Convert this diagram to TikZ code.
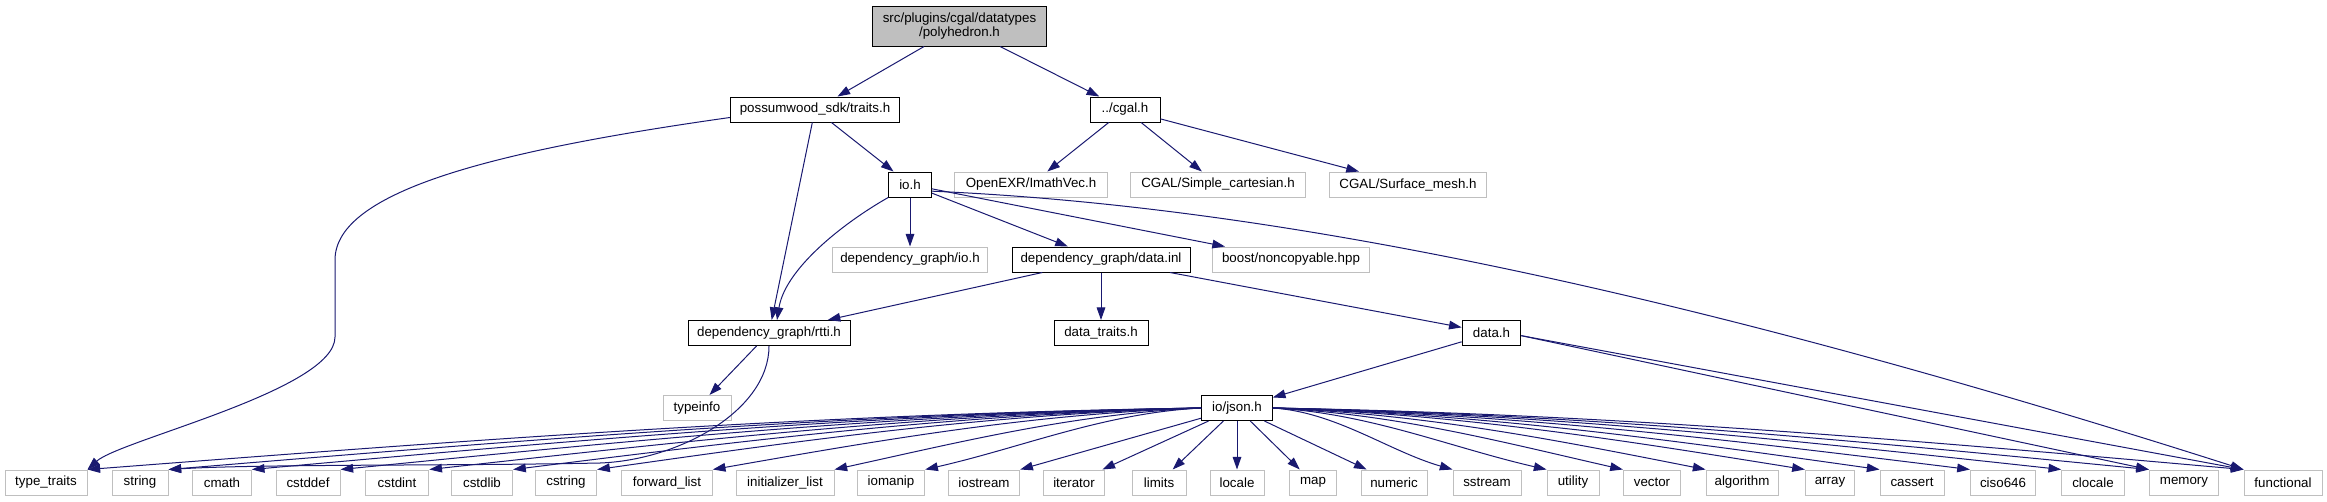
\documentclass[tikz,border=0pt]{standalone}
\usepackage{fontspec}
\setmainfont{Liberation Sans}
\usepackage{tikz}
\definecolor{edge}{RGB}{25,25,112}
\definecolor{grey75}{RGB}{191,191,191}
\usetikzlibrary{arrows.meta}

\begin{document}
\begin{tikzpicture}[x=0.75pt, y=-0.75pt, >={Triangle[length=9.5pt,width=6.5pt]},
    file/.style={draw=black, line width=0.75pt, fill=white, inner sep=0pt,
        minimum height=18.75pt, font=\fontsize{10}{10}\selectfont},
    sys/.style={file, draw=grey75},
    dep/.style={->, edge, line width=0.75pt}]
    \useasboundingbox (0,0) rectangle (2327,501);
    % Tệp gốc
    \node[file, fill=grey75, minimum width=131pt, minimum height=30pt, align=center,
        font=\fontsize{10}{10}\selectfont] (poly) at (959.5,26) {src/plugins/cgal/datatypes\\/polyhedron.h};
    % Tầng 1
    \node[file, minimum width=127pt] (traits) at (815,109.5) {possumwood\_sdk/traits.h};
    \node[file, minimum width=52.5pt] (cgal) at (1125,109.5) {../cgal.h};
    % Tầng 2
    \node[file, minimum width=32pt] (io) at (910,184.5) {io.h};
    \node[sys, minimum width=115pt] (openexr) at (1031,184.5) {OpenEXR/ImathVec.h};
    \node[sys, minimum width=131pt] (simplecart) at (1218,184.5) {CGAL/Simple\_cartesian.h};
    \node[sys, minimum width=118pt] (surfmesh) at (1408,184.5) {CGAL/Surface\_mesh.h};
    % Tầng 3
    \node[sys, minimum width=116pt] (dgio) at (910,259.5) {dependency\_graph/io.h};
    \node[file, minimum width=133.5pt] (datainl) at (1101,259.5) {dependency\_graph/data.inl};
    \node[sys, minimum width=118pt] (noncopy) at (1291,259.5) {boost/noncopyable.hpp};
    % Tầng 4
    \node[file, minimum width=121.5pt] (rtti) at (769,333) {dependency\_graph/rtti.h};
    \node[file, minimum width=70.5pt] (datatraits) at (1101,333) {data\_traits.h};
    \node[file, minimum width=44pt] (datah) at (1491.5,333) {data.h};
    % Tầng 5
    \node[sys, minimum width=51pt] (typeinfo) at (697,408) {typeinfo};
    \node[file, minimum width=53pt] (json) at (1237,408) {io/json.h};
    % Thư viện chuẩn
    \node[sys, minimum width=61.5pt] (typetraits) at (46,482.5) {type\_traits};
    \node[sys, minimum width=42pt] (string) at (140,482.5) {string};
    \node[sys, minimum width=44pt] (cmath) at (222,482.5) {cmath};
    \node[sys, minimum width=48pt] (cstddef) at (308,482.5) {cstddef};
    \node[sys, minimum width=47.7pt] (cstdint) at (397,482.5) {cstdint};
    \node[sys, minimum width=46pt] (cstdlib) at (482,482.5) {cstdlib};
    \node[sys, minimum width=46pt] (cstring) at (566,482.5) {cstring};
    \node[sys, minimum width=68pt] (forwardlist) at (667,482.5) {forward\_list};
    \node[sys, minimum width=73.5pt] (initlist) at (785,482.5) {initializer\_list};
    \node[sys, minimum width=50.6pt] (iomanip) at (891,482.5) {iomanip};
    \node[sys, minimum width=53.6pt] (iostream) at (984,482.5) {iostream};
    \node[sys, minimum width=45.5pt] (iterator) at (1074,482.5) {iterator};
    \node[sys, minimum width=40.5pt] (limits) at (1159,482.5) {limits};
    \node[sys, minimum width=40.5pt] (locale) at (1237,482.5) {locale};
    \node[sys, minimum width=35pt] (map) at (1313,482.5) {map};
    \node[sys, minimum width=49.5pt] (numeric) at (1394,482.5) {numeric};
    \node[sys, minimum width=51pt] (sstream) at (1487,482.5) {sstream};
    \node[sys, minimum width=39pt] (utility) at (1573,482.5) {utility};
    \node[sys, minimum width=43pt] (vector) at (1652,482.5) {vector};
    \node[sys, minimum width=54pt] (algorithm) at (1742,482.5) {algorithm};
    \node[sys, minimum width=37pt] (array) at (1830,482.5) {array};
    \node[sys, minimum width=48pt] (cassert) at (1912,482.5) {cassert};
    \node[sys, minimum width=49pt] (ciso646) at (2003,482.5) {ciso646};
    \node[sys, minimum width=47pt] (clocale) at (2093,482.5) {clocale};
    \node[sys, minimum width=52pt] (memory) at (2184,482.5) {memory};
    \node[sys, minimum width=58.5pt] (functional) at (2283,482.5) {functional};
    % Cạnh từ tệp gốc
    \draw[dep] (poly) -- (traits);
    \draw[dep] (poly) -- (cgal);
    % Cạnh từ traits.h
    \draw[dep] ([yshift=-6pt]traits.west) .. controls (500,150) and (335,190) .. (335,260)
        -- (335,337) .. controls (335,390) and (120,440) .. (typetraits.north east);
    \draw[dep] (traits) -- (rtti);
    \draw[dep] (traits) -- (io);
    % Cạnh từ cgal.h
    \draw[dep] (cgal) -- (openexr);
    \draw[dep] (cgal) -- (simplecart);
    \draw[dep] (cgal) -- (surfmesh);
    % Cạnh từ io.h
    \draw[dep] (io) -- (dgio);
    \draw[dep] (io) -- (datainl);
    \draw[dep] (io) -- (noncopy);
    \draw[dep] ([yshift=-5pt]io.east) .. controls (1250,205) and (1650,280) .. (functional.north west);
    \draw[dep] (io.south west) .. controls (840,225) and (785,270) .. ([xshift=6pt]rtti.north);
    % Cạnh từ data.inl
    \draw[dep] (datainl) -- (rtti);
    \draw[dep] (datainl) -- (datatraits);
    \draw[dep] (datainl) -- (datah);
    % Cạnh từ data.h
    \draw[dep] (datah) -- (json);
    \draw[dep] ([yshift=-2pt]datah.east) -- (memory.north west);
    \draw[dep] ([yshift=-2pt]datah.east) -- (functional.north west);
    % Cạnh từ rtti.h
    \draw[dep] (rtti) -- (typeinfo);
    \draw[dep] (rtti.south) .. controls (769,410) and (680,460) .. (600,463)
        .. controls (450,466) and (260,464) .. (string.north east);
    % Cạnh từ json.h
    \draw[dep] (json.west) .. controls +(-390,6) and +(390,-30) .. (typetraits.north east);
    \draw[dep] (json.west) .. controls +(-362,6) and +(362,-30) .. (string.north east);
    \draw[dep] (json.west) .. controls +(-333,6) and +(333,-30) .. (cmath.north east);
    \draw[dep] (json.west) .. controls +(-301,6) and +(301,-30) .. (cstddef.north east);
    \draw[dep] (json.west) .. controls +(-271,6) and +(271,-30) .. (cstdint.north east);
    \draw[dep] (json.west) .. controls +(-241,6) and +(241,-30) .. (cstdlib.north east);
    \draw[dep] (json.west) .. controls +(-211,6) and +(211,-30) .. (cstring.north east);
    \draw[dep] (json.west) .. controls +(-171,6) and +(171,-30) .. (forwardlist.north east);
    \draw[dep] (json.west) .. controls +(-128,6) and +(128,-28) .. (initlist.north east);
    \draw[dep] (json.west) .. controls +(-97,5) and +(97,-22) .. (iomanip.north east);
    \draw[dep] (json) -- (iostream.north east);
    \draw[dep] (json) -- (iterator);
    \draw[dep] (json) -- (limits);
    \draw[dep] (json) -- (locale);
    \draw[dep] (json) -- (map);
    \draw[dep] (json) -- (numeric);
    \draw[dep] (json.east) .. controls +(63,4) and +(-63,-18) .. (sstream.north west);
    \draw[dep] (json.east) .. controls +(96,5) and +(-96,-22) .. (utility.north west);
    \draw[dep] (json.east) .. controls +(123,6) and +(-123,-28) .. (vector.north west);
    \draw[dep] (json.east) .. controls +(152,6) and +(-152,-30) .. (algorithm.north west);
    \draw[dep] (json.east) .. controls +(187,6) and +(-187,-30) .. (array.north west);
    \draw[dep] (json.east) .. controls +(213,6) and +(-213,-30) .. (cassert.north west);
    \draw[dep] (json.east) .. controls +(244,6) and +(-244,-30) .. (ciso646.north west);
    \draw[dep] (json.east) .. controls +(276,6) and +(-276,-30) .. (clocale.north west);
    \draw[dep] (json.east) .. controls +(307,6) and +(-307,-30) .. (memory.north west);
    \draw[dep] (json.east) .. controls +(340,6) and +(-340,-30) .. (functional.north west);
\end{tikzpicture}
\end{document}
